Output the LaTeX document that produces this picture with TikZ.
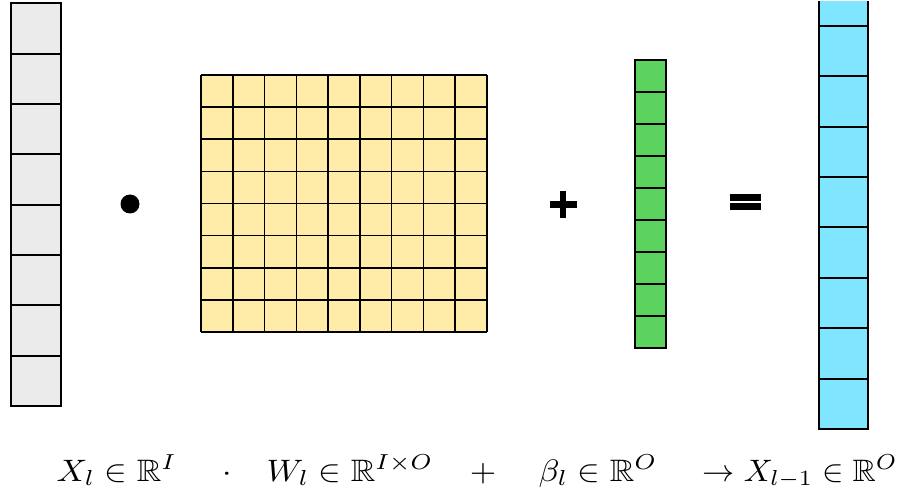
\documentclass[tikz,border=0pt]{standalone}
\usepackage{amssymb}
\definecolor{cgray}{HTML}{EBEBEB}
\definecolor{cyel}{HTML}{FFECA8}
\definecolor{cgreen}{HTML}{5CD35E}
\definecolor{cblue}{HTML}{80E5FF}
\begin{document}
\begin{tikzpicture}[x=1pt,y=-1pt,
  cell/.style={draw=black, line width=2pt},
  gline/.style={draw=black, line width=1.5pt},
  lbl/.style={xscale=3.4, yscale=3.1, inner sep=0pt, anchor=base west}]
\useasboundingbox (0,0) rectangle (902,497);
% input column
\foreach \i in {0,...,7}
  \draw[cell, fill=cgray] (11,{3.5+\i*50.3}) rectangle (61,{3.5+(\i+1)*50.3});
% weight matrix
\fill[cyel] (201,75) rectangle (487,332);
\foreach \i in {0,...,9}
  \draw[gline] ({201+\i*31.78},75) -- ({201+\i*31.78},332);
\foreach \j in {0,...,8}
  \draw[gline] (201,{75+\j*32.125}) -- (487,{75+\j*32.125});
% bias column
\foreach \i in {0,...,8}
  \draw[gline, fill=cgreen] (635,{60+\i*32}) rectangle (666,{60+(\i+1)*32});
% output column (cut at top)
\begin{scope}
  \clip (800,2) rectangle (890,450);
  \foreach \i in {0,...,8}
    \draw[cell, fill=cblue] (819,{429-(\i+1)*50.4}) rectangle (868,{429-\i*50.4});
\end{scope}
% operators
\fill (130,204) circle (9.5);
\fill (549.5,201.5) rectangle (576.5,208);
\fill (559.8,191.5) rectangle (566.2,218.5);
\fill (730,194) rectangle (761,200.7);
\fill (730,203.5) rectangle (761,210.5);
% formula
\node[lbl] (x) at (56,481) {$X_l \in \mathbb{R}^I$};
\node[lbl, anchor=base] (dot) at (227,481) {$\cdot$};
\node[lbl] (w) at (266,481) {$W_l \in \mathbb{R}^{I\times O}$};
\node[lbl, anchor=base] (plus) at (483,481) {$+$};
\node[lbl] (b) at (538,481) {$\beta_l \in \mathbb{R}^O$};
\node[lbl, xscale=3.22/3.4] (y) at (702,481) {$\to X_{l-1} \in \mathbb{R}^O$};
\end{tikzpicture}
\end{document}
